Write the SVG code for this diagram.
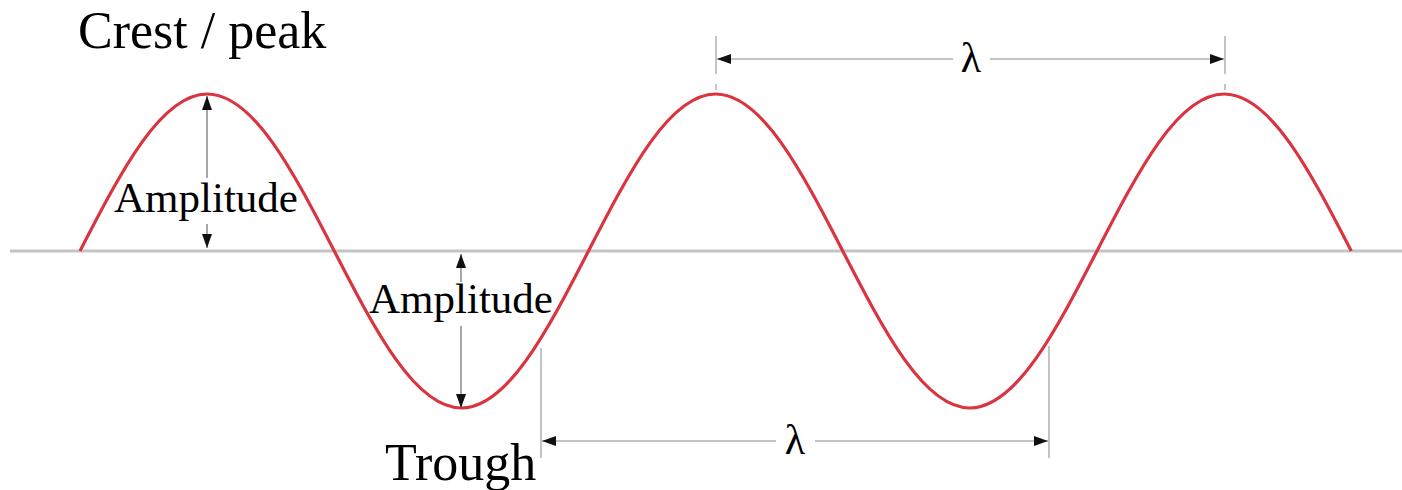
<svg xmlns="http://www.w3.org/2000/svg" width="1402" height="490" viewBox="0 0 1402 490">
<style>
.lbl{font-family:"Liberation Serif","Times New Roman",serif;fill:#000}
.big{font-size:52px}
.amp{font-size:43px}
.lam{font-size:42px}
.dim{stroke:#c4c4c4;stroke-width:2;fill:none}
.arr{stroke:#777;stroke-width:1.3;fill:none}
.wave{stroke:#d9343f;stroke-width:3.2;fill:none;stroke-linejoin:round}
.axis{stroke:#c4c4c4;stroke-width:3}
</style>
<defs>
<marker id="ah" viewBox="0 0 14 10" refX="14" refY="5" markerWidth="14" markerHeight="10" markerUnits="userSpaceOnUse" orient="auto-start-reverse">
<path d="M0,0 L14,5 L0,10 Z" fill="#111"/>
</marker>
</defs>
<rect width="1402" height="490" fill="#fff"/>
<g id="axis"><line class="axis" x1="10" y1="251" x2="1402" y2="251"/></g>
<g id="wave">
<path class="wave" d="M80,251 c41.46,-80.4 81.12,-157 127.125,-157 c46,0 85.66,76.6 127.125,157 c41.46,80.4 81.12,157 127.125,157 c46,0 85.66,-76.6 127.125,-157 c41.46,-80.4 81.12,-157 127.125,-157 c46,0 85.66,76.6 127.125,157 c41.46,80.4 81.12,157 127.125,157 c46,0 85.66,-76.6 127.125,-157 c41.46,-80.4 81.12,-157 127.125,-157 c46,0 85.66,76.6 127.125,157"/>
</g>
<g id="connectors">
<line class="arr" x1="207" y1="178" x2="207" y2="96" marker-end="url(#ah)"/>
<line class="arr" x1="207" y1="224" x2="207" y2="248" marker-end="url(#ah)"/>
<line class="arr" x1="461" y1="282" x2="461" y2="254" marker-end="url(#ah)"/>
<line class="arr" x1="461" y1="326" x2="461" y2="408" marker-end="url(#ah)"/>
<line class="dim" x1="716" y1="36" x2="716" y2="74"/>
<line class="dim" x1="1225" y1="36" x2="1225" y2="74"/>
<line class="dim" x1="716" y1="84" x2="716" y2="90"/>
<line class="dim" x1="1225" y1="84" x2="1225" y2="90"/>
<line class="dim" x1="953" y1="59" x2="717" y2="59" marker-end="url(#ah)"/>
<line class="dim" x1="990" y1="59" x2="1224" y2="59" marker-end="url(#ah)"/>
<line class="dim" x1="541" y1="348" x2="541" y2="458"/>
<line class="dim" x1="1049" y1="346" x2="1049" y2="458"/>
<line class="dim" x1="776" y1="441" x2="542" y2="441" marker-end="url(#ah)"/>
<line class="dim" x1="815" y1="441" x2="1048" y2="441" marker-end="url(#ah)"/>
</g>
<g id="crest"><text class="lbl big" x="78" y="48">Crest / peak</text></g>
<g id="trough"><text class="lbl big" x="385" y="480">Trough</text></g>
<g id="amp1"><text class="lbl amp" x="206" y="212" text-anchor="middle">Amplitude</text></g>
<g id="amp2"><text class="lbl amp" x="461" y="313" text-anchor="middle">Amplitude</text></g>
<g id="lambda1"><text class="lbl lam" x="971" y="72" text-anchor="middle">λ</text></g>
<g id="lambda2"><text class="lbl lam" x="795" y="454" text-anchor="middle">λ</text></g>
</svg>
